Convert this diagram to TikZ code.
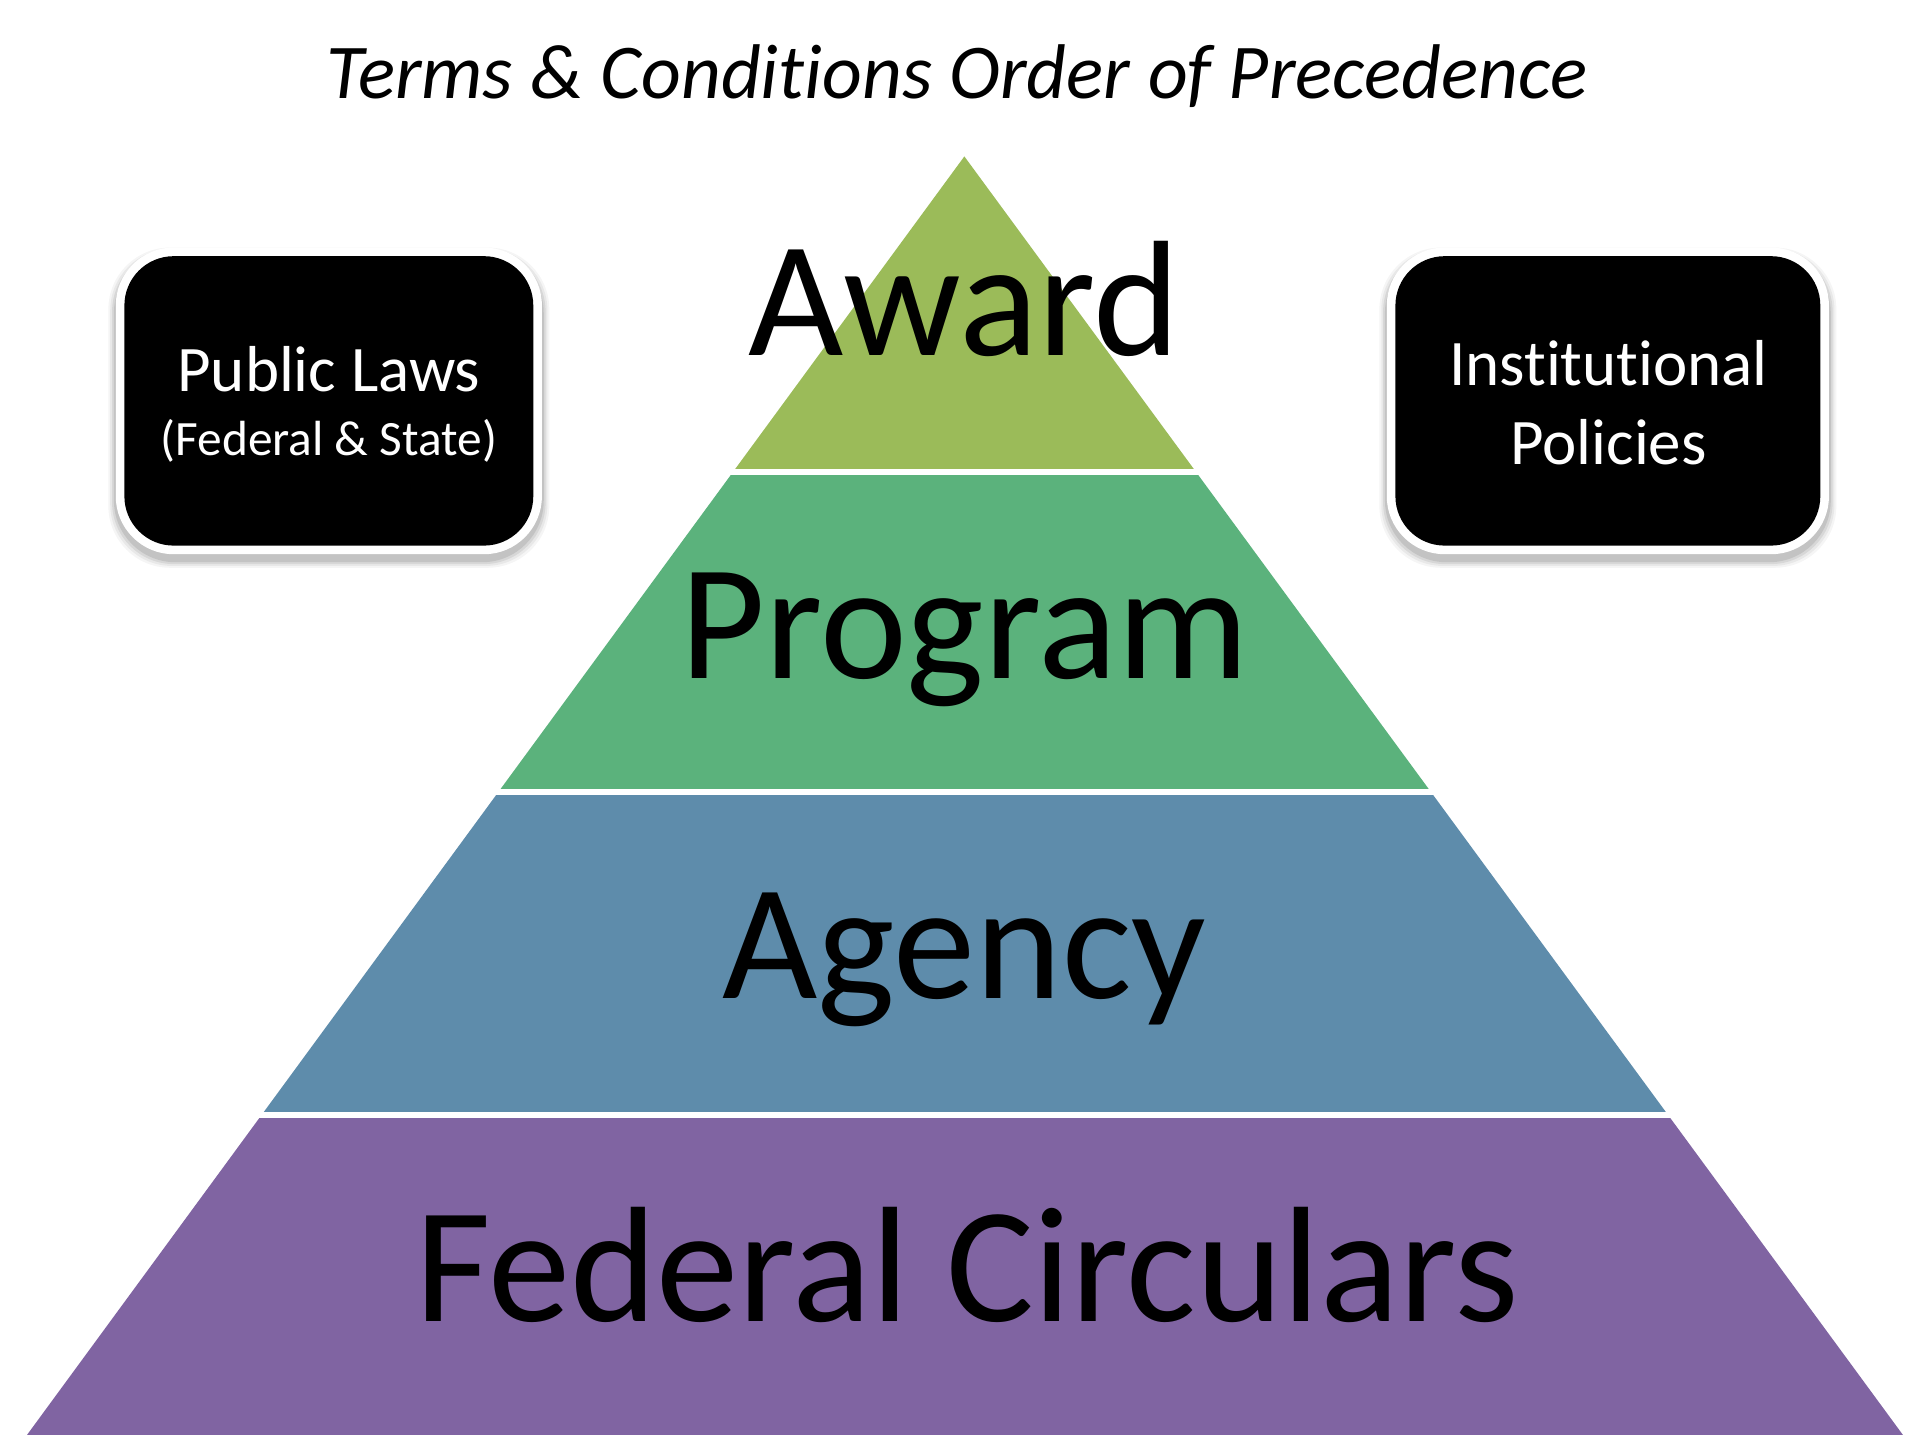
\documentclass[tikz,border=0pt]{standalone}
\usepackage{fontspec}
\setmainfont[Ligatures=NoCommon]{Carlito}
\definecolor{cAward}{HTML}{9BBB59}
\definecolor{cProgram}{HTML}{5BB27C}
\definecolor{cAgency}{HTML}{5E8CAB}
\definecolor{cFederal}{HTML}{8064A2}
\tikzset{
  bigtxt/.style={anchor=base, font=\fontsize{38}{44}\selectfont, text=black, inner sep=0pt},
  boxtxt/.style={anchor=base, font=\fontsize{15}{18}\selectfont, text=white, inner sep=0pt},
  smalltxt/.style={anchor=base, font=\fontsize{11.4}{14}\selectfont, text=white, inner sep=0pt},
}
\begin{document}
\begin{tikzpicture}[x=0.01cm,y=-0.01cm]
\useasboundingbox (0,0) rectangle (1563,1173);
\fill[white] (0,0) rectangle (1563,1173);
% title
\node[anchor=base, inner sep=0pt, font=\fontsize{17.9}{22}\selectfont\itshape] (title) at (777,80) {Terms \& Condit\kern0pt ions Order of Precedence};
% pyramid
\begin{scope}
\clip (783,127) -- (1545,1165) -- (22,1165) -- cycle;
\fill[cAward] (0,120) rectangle (1563,380.5);
\fill[cProgram] (0,385.5) rectangle (1563,640.5);
\fill[cAgency] (0,645.5) rectangle (1563,903);
\fill[cFederal] (0,908) rectangle (1563,1170);
\end{scope}
\node[bigtxt] (award) at (783,289) {Award};
\node[bigtxt] (program) at (783,551) {Program};
\node[bigtxt] (agency) at (783,811) {Agency};
\node[bigtxt] (federal) at (785,1073) {Federal Circulars};
% boxes with shadow
\foreach \xa/\xb in {101/433, 1133/1478}{
  \foreach \o/\op in {12/0.04, 9/0.05, 6/0.07, 3/0.09}{
    \fill[black, opacity=\op, rounded corners=0.5cm] (\xa-7-\o/2,208-7+4-\o/3) rectangle (\xb+7+\o/2,443+7+5+\o/2);
  }
  \fill[white, rounded corners=0.47cm] (\xa-7,208-7) rectangle (\xb+7,443+7);
  \fill[black, rounded corners=0.4cm] (\xa,208) rectangle (\xb,443);
}
\node[boxtxt] (pl) at (267,318) {Public Laws};
\node[smalltxt] (fs) at (267,370) {(Federal \& State)};
\node[boxtxt] (inst) at (1306,313) {Instit\kern0pt ut\kern0pt ional};
\node[boxtxt] (pol) at (1306,377) {Policies};
\end{tikzpicture}
\end{document}
